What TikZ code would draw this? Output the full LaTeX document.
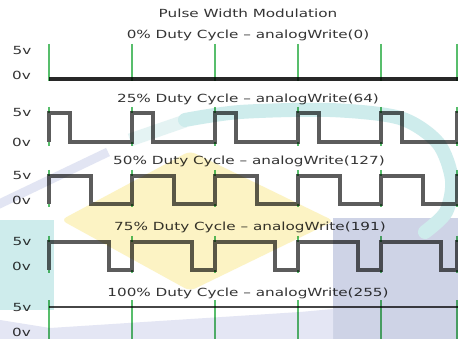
\documentclass[tikz,border=0pt]{standalone}
\usepackage{fontspec}
\setmainfont{DejaVu Sans}
\usepackage{graphicx}
% horizontally widened lettering
\newcommand\widetxt[1]{\scalebox{1.36}[1]{#1}}
\definecolor{logoyellow}{RGB}{252,243,196}
\definecolor{logoteal}{RGB}{206,236,236}
\definecolor{logotealpale}{RGB}{228,243,243}
\definecolor{logolav}{RGB}{206,211,230}
\definecolor{logolavpale}{RGB}{228,230,244}
\definecolor{logolavstripe}{RGB}{226,229,243}
\definecolor{txtgray}{RGB}{52,52,52}
\definecolor{tickgreen}{RGB}{88,190,108}
\definecolor{wavegray}{RGB}{92,92,92}
\definecolor{flatgray}{RGB}{40,40,40}
\definecolor{fullgray}{RGB}{70,70,70}
\begin{document}
\begin{tikzpicture}[x=1pt,y=-1pt,
  lbl/.style={font=\fontsize{11.2}{13}\selectfont, text=txtgray, inner sep=0pt},
  captxt/.style={lbl, anchor=base},
  volt/.style={lbl, anchor=base east},
  tick/.style={draw=tickgreen, line width=1.4pt},
  wave/.style={draw=wavegray, line width=3.2pt, line join=miter},
  flat/.style={draw=flatgray, line width=3.2pt},
  full/.style={draw=fullgray, line width=2.2pt}]
\useasboundingbox (0,0) rectangle (458,339);
\clip (0,0) rectangle (458,339);
\fill[white] (0,0) rectangle (458,339);

% faded logo shapes behind the plots
\fill[logoyellow, rounded corners=6pt] (190,151) -- (334,221) -- (190,291) -- (61,220) -- cycle;
\fill[logoteal] (0,220) rectangle (54,310);
\fill[logolav] (333,218) rectangle (458,339);
\fill[logolavpale] (0,320) -- (50,328) -- (300,312) -- (333,309) -- (333,339) -- (0,339) -- cycle;
\draw[logolavstripe, line width=9pt] (-5,206) -- (108,152);
\draw[logotealpale, line width=13pt] plot[smooth] coordinates {(130,140) (185,121)};
\draw[logoteal, line width=14pt, line cap=round] plot[smooth] coordinates {(185,120) (240,112) (330,110) (400,118) (438,143) (452,180) (446,212) (425,232)};

\begin{scope}[blend mode=multiply]
% period markers (on the square waves only their ends show past the rising edges)
\foreach \x in {49,132,215,298,381,457}{
  \draw[tick] (\x,44) -- (\x,81);
  \draw[tick] (\x,107) -- (\x,113) (\x,142) -- (\x,146);
  \draw[tick] (\x,170) -- (\x,176) (\x,204) -- (\x,207);
  \draw[tick] (\x,236) -- (\x,242) (\x,270) -- (\x,273);
  \draw[tick] (\x,300) -- (\x,342);
}

% 0% : always low
\draw[flat] (49,79) -- (460,79);
% 25%, 50%, 75% square waves
\foreach \hi/\lo/\w in {113/142/21, 176/204/42, 242/270/60}{
  \draw[wave] (49,\lo)
    \foreach \s/\n in {49/132,132/215,215/298,298/381,381/457}{
      -- (\s,\hi) -- (\s+\w,\hi) -- (\s+\w,\lo) -- (\n,\lo)
    } -- (457,\hi) -- (462,\hi);
}
% 100% : always high
\draw[full] (49,307) -- (460,307);

% titles
\node[captxt] (title) at (248,18) {\widetxt{Pulse Width Modulation}};
\node[captxt] (cap0) at (248,39) {\widetxt{0\% Duty Cycle – analogWrite(0)}};
\node[captxt] (cap1) at (248,103) {\widetxt{25\% Duty Cycle – analogWrite(64)}};
\node[captxt] (cap2) at (249,165) {\widetxt{50\% Duty Cycle – analogWrite(127)}};
\node[captxt] (cap3) at (250,231) {\widetxt{75\% Duty Cycle – analogWrite(191)}};
\node[captxt] (cap4) at (248,296) {\widetxt{100\% Duty Cycle – analogWrite(255)}};

% voltage levels
\node[volt] (hi0) at (31.5,55) {\widetxt{5v}};
\node[volt] (lo0) at (31,80) {\widetxt{0v}};
\node[volt] (hi1) at (31.5,117) {\widetxt{5v}};
\node[volt] (lo1) at (31,147) {\widetxt{0v}};
\node[volt] (hi2) at (31.5,180) {\widetxt{5v}};
\node[volt] (lo2) at (31,205) {\widetxt{0v}};
\node[volt] (hi3) at (31.5,246) {\widetxt{5v}};
\node[volt] (lo3) at (31,271) {\widetxt{0v}};
\node[volt] (hi4) at (31.5,311) {\widetxt{5v}};
\node[volt] (lo4) at (31,336) {\widetxt{0v}};
\end{scope}
\end{tikzpicture}
\end{document}
